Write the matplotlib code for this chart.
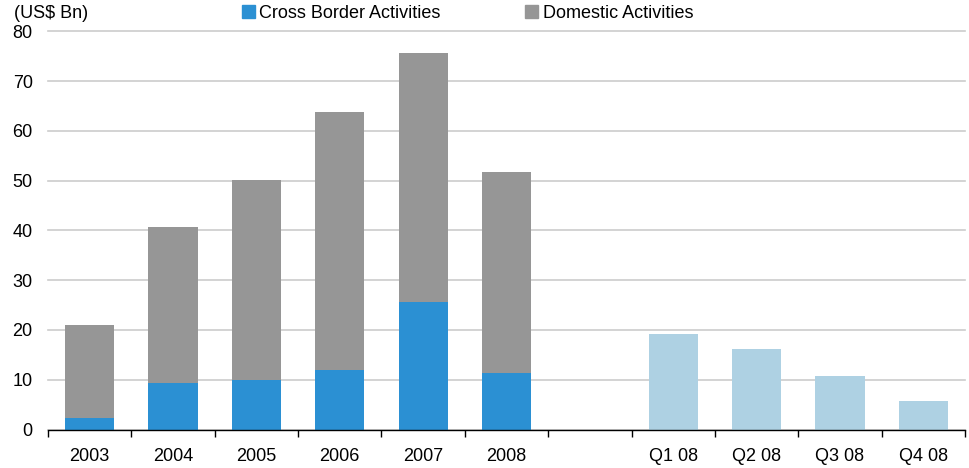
import matplotlib

matplotlib.use("Agg")
import matplotlib.pyplot as plt
import numpy as np
from matplotlib.patches import Patch

plt.rcParams["font.family"] = ["Liberation Sans", "DejaVu Sans"]
plt.rcParams["font.size"] = 13

# annual M&A volume, split into cross border / domestic
years = ["2003", "2004", "2005", "2006", "2007", "2008"]
cross_border = [2.4, 9.4, 10.0, 12.0, 25.7, 11.4]
domestic_total = [21.0, 40.7, 50.2, 63.8, 75.6, 51.8]
domestic = [t - c for t, c in zip(domestic_total, cross_border)]

# 2008 by quarter (total only)
quarters = ["Q1 08", "Q2 08", "Q3 08", "Q4 08"]
quarter_totals = [19.2, 16.2, 10.8, 5.7]

labels = years + [""] + quarters
x_years = np.arange(len(years))
x_quarters = np.arange(len(years) + 1, len(labels))

blue = "#2b90d3"
gray = "#969696"
light_blue = "#aed1e3"

fig = plt.figure(figsize=(9.7, 4.68), dpi=100)
ax = fig.add_axes([48 / 970, 1 - 429.5 / 468, 917 / 970, 398 / 468])

w = 0.59
ax.bar(x_years, cross_border, width=w, color=blue, zorder=3)
ax.bar(x_years, domestic, width=w, bottom=cross_border, color=gray, zorder=3)
ax.bar(x_quarters, quarter_totals, width=w, color=light_blue, zorder=3)

ax.set_xlim(-0.5, len(labels) - 0.5)
ax.set_ylim(0, 80)
ax.set_yticks(range(0, 81, 10))
ax.yaxis.grid(True, color="#cccccc", linewidth=1.2, zorder=0)
for gl in ax.get_ygridlines():
    gl.set_clip_on(False)
ax.tick_params(axis="y", length=0, pad=11, labelsize=13)

# category labels centered, tick marks between categories
ax.set_xticks(np.arange(len(labels)))
ax.set_xticklabels(labels)
ax.set_xticks(np.arange(len(labels) + 1) - 0.5, minor=True)
ax.tick_params(axis="x", which="major", length=0, pad=13, labelsize=13)
ax.tick_params(axis="x", which="minor", length=5, width=1, color="black", direction="out")

for side in ["left", "right", "top"]:
    ax.spines[side].set_visible(False)
ax.spines["bottom"].set_color("black")
ax.spines["bottom"].set_linewidth(1)
ax.spines["bottom"].set_zorder(4)

fig.text(14 / 970, 1 - 13 / 468, "(US$ Bn)", ha="left", va="center", fontsize=13)

handles = [Patch(color=blue, label="Cross Border Activities"),
           Patch(color=gray, label="Domestic Activities")]
fig.legend(handles=handles, loc="center left", bbox_to_anchor=(242 / 970, 1 - 13 / 468),
           ncol=2, frameon=False, handlelength=0.7, handleheight=0.7, handletextpad=0.25,
           columnspacing=4.7, fontsize=13, borderaxespad=0, borderpad=0)

fig.savefig("out.png", dpi=100)
